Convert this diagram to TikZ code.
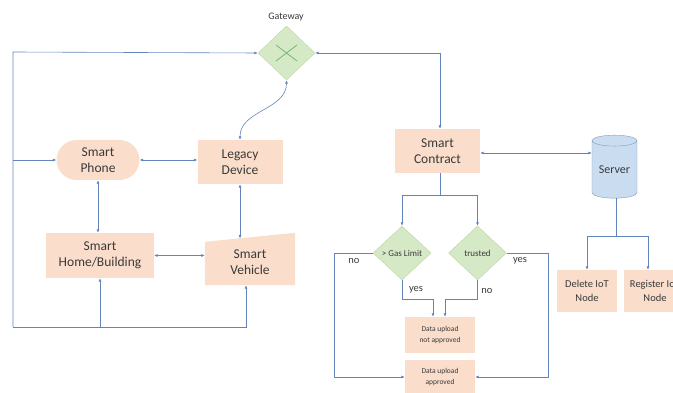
\documentclass[tikz,border=0pt]{standalone}
\usepackage{fontspec}
\setmainfont{Carlito}
\usetikzlibrary{arrows.meta,shapes.geometric,shapes.misc}
\definecolor{peach}{RGB}{250,222,203}
\definecolor{leaf}{RGB}{214,233,199}
\definecolor{leafline}{RGB}{185,214,165}
\definecolor{sky}{RGB}{202,221,240}
\definecolor{skyline}{RGB}{125,155,195}
\definecolor{wire}{RGB}{98,132,188}
\definecolor{ink}{RGB}{58,58,58}

\begin{document}
\begin{tikzpicture}[x=1pt,y=-1pt,
  box/.style={fill=peach,text=ink,align=center,inner sep=0pt,font=\fontsize{13.5}{16.5}\selectfont},
  smallbox/.style={box,font=\fontsize{7.5}{11}\selectfont},
  gate/.style={diamond,fill=leaf,draw=leafline,inner sep=0pt,text=ink,font=\fontsize{9}{11}\selectfont},
  lbl/.style={text=ink,font=\fontsize{10.5}{12}\selectfont},
  wire/.style={draw=wire,line width=0.6pt,-{Latex[length=3.5pt,width=3pt]}},
  wire2/.style={wire,{Latex[length=3.5pt,width=3pt]}-{Latex[length=3.5pt,width=3pt]}}]
\useasboundingbox (0,0) rectangle (673,393);

% left block
\node[gate,minimum width=57pt,minimum height=54pt] (gw) at (286.5,53) {};
\draw[green!50!black!55,line width=0.8pt] (276,45) -- (297,61) (276,61) -- (297,45);
\node[text=ink,font=\fontsize{10}{12}\selectfont] (gwlabel) at (286,17) {Gateway};
\node[box,rounded rectangle,minimum width=83pt,minimum height=40pt] (phone) at (98,160) {Smart\\Phone};
\node[box,minimum width=85pt,minimum height=44pt] (legacy) at (240,162) {Legacy\\Device};
\node[box,minimum width=108pt,minimum height=45pt] (home) at (100,255.5) {Smart\\Home/Building};
\node[minimum width=90pt,minimum height=52pt,inner sep=0pt] (vehicle) at (250,259) {};
\fill[peach] (vehicle.south west) -- ([yshift=-9pt]vehicle.north west) -- (vehicle.north east) -- (vehicle.south east) -- cycle;
\node[box,fill=none] (vehlabel) at (250,262) {Smart\\Vehicle};

\coordinate (tl) at (13,52);
\coordinate (bl) at (13,327);
\coordinate (vtop) at (240,238.5);
\draw[wire] (bl) -- (tl) -- (gw.west);
\draw[wire] (bl) -| (home.south);
\draw[wire] (bl) -| ([xshift=-4pt]vehicle.south);
\draw[wire] (phone.west -| tl) -- (phone.west);
\draw[wire2] (phone.east) -- (legacy.west |- phone.east);
\draw[wire2] (phone.south) -- (phone.south |- home.north);
\draw[wire2] (legacy.south) -- (vtop);
\draw[wire2] (home.east) -- (home.east -| vehicle.west);
\draw[wire2] (legacy.north) to[out=90,in=-90] (gw.south);

% right block
\node[box,minimum width=85pt,minimum height=44pt] (contract) at (437.5,151) {Smart\\Contract};
\node[cylinder,shape border rotate=90,aspect=0.35,fill=sky,draw=skyline,text=ink,
  minimum width=45pt,minimum height=63pt,inner sep=0pt,font=\fontsize{12}{14}\selectfont] (server) at (614.5,169.5) {Server};
\draw[wire2] (gw.east) -| ([xshift=2.5pt]contract.north);
\draw[wire2] ([yshift=-2pt]contract.east) -- ([yshift=-2pt]contract.east -| server.west);

\node[gate,minimum width=58pt,minimum height=54pt] (gas) at (402,253) {> Gas Limit};
\node[gate,minimum width=58pt,minimum height=54pt] (trust) at (477.5,253) {trusted};
\node[smallbox,minimum width=70pt,minimum height=36pt] (notok) at (440,335) {Data upload\\not approved};
\node[smallbox,minimum width=70pt,minimum height=34pt] (ok) at (440,377) {Data upload\\approved};

\draw[draw=wire,line width=0.6pt] ([xshift=2.5pt]contract.south) -- ++(0,22) coordinate (cs);
\draw[wire] (cs) -| (gas.north);
\draw[wire] (cs) -| (trust.north);
\draw[wire] (gas.west) -- ++(-39,0) coordinate (gasno) |- (ok.west);
\node[lbl] (nolbl1) at (354,261) {no};
\draw[wire] (gas.south) -- ++(0,19) -| ([xshift=-7pt]notok.north);
\node[lbl] (yeslbl1) at (416,290) {yes};
\draw[wire] (trust.south) -- ++(0,19) -| ([xshift=5pt]notok.north);
\node[lbl] (nolbl2) at (487,291) {no};
\draw[wire] (trust.east) -- ++(42,0) coordinate (trustyes) |- (ok.east);
\node[lbl] (yeslbl2) at (520,261) {yes};

\node[box,minimum width=60pt,minimum height=42pt,font=\fontsize{10.5}{14}\selectfont] (del) at (587,291) {Delete IoT\\Node};
\node[box,minimum width=62pt,minimum height=42pt,font=\fontsize{10.5}{14}\selectfont] (reg) at (655,291) {Register IoT\\Node};
\draw[draw=wire,line width=0.6pt] ([xshift=2pt]server.south) -- ++(0,38) coordinate (ss);
\draw[wire] (ss) -| (del.north);
\draw[wire] (ss) -| ([xshift=-7pt]reg.north);
\end{tikzpicture}
\end{document}
